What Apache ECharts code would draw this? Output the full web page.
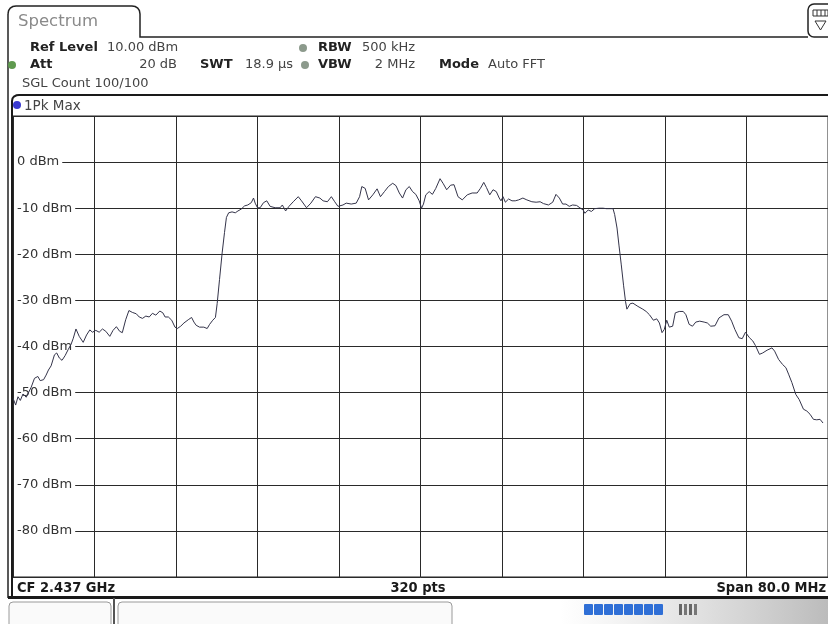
<!DOCTYPE html>
<html><head><meta charset="utf-8">
<script src="https://cdn.jsdelivr.net/npm/echarts@6/dist/echarts.min.js"></script>
<style>html,body{margin:0;padding:0;background:#fff}#c{width:828px;height:624px}</style>
</head><body><div id="c"></div>
<script>
const freqMHz = [
-40.0,-39.74,-39.51,-39.28,-39.02,-38.7,-38.21,-37.89,-37.56,-37.33,-37.0,-36.75,-36.52,-36.26,-35.93,-35.71,-35.45,-35.19,-34.89,-34.57,-34.31,-34.08,-33.82,-33.5,-33.11,-32.78,-32.46,-32.2,-31.87,-31.54,-31.22,-30.89,-30.5,-30.18,-29.85,-29.53,-29.27,-28.94,-28.62,-28.29,-27.9,
-27.61,-27.29,-26.96,-26.63,-26.31,-25.98,-25.59,-25.29,-25.07,-24.75,-24.42,-24.1,-23.87,-23.54,-23.22,-22.8,-22.47,-22.24,-22.02,-21.69,-21.27,-20.94,-20.7,-20.39,-20.13,-19.96,-19.73,-19.47,-19.24,-19.05,-18.83,-18.5,-18.18,-17.92,-17.6,-17.27,-16.95,-16.61,-16.39,-16.23,-16.0,-15.74,-15.41,-15.09,-14.76,-14.27,-13.78,-13.56,
-13.24,-12.91,-12.49,-12.0,-11.68,-11.19,-10.76,-10.31,-9.88,-9.56,-9.14,-8.75,-8.42,-8.1,-7.93,-7.61,-7.29,-6.8,-6.31,-5.98,-5.76,-5.43,-5.1,-4.68,-4.26,-3.93,-3.54,-3.15,-2.73,-2.41,-2.08,-1.76,-1.43,-1.1,-0.78,-0.46,-0.13,0.1,0.29,0.52,0.85,1.17,1.5,1.92,2.24,2.57,2.96,3.29,
3.68,4.1,4.59,5.07,5.56,5.88,6.21,6.47,6.8,7.12,7.44,7.73,7.9,8.1,8.33,8.65,8.98,9.3,9.63,10.05,10.44,10.93,11.35,11.74,12.07,12.56,12.98,13.3,13.63,13.95,14.28,14.6,14.93,15.32,15.64,15.97,16.13,16.46,16.78,17.1,17.53,17.92,18.24,18.57,18.9,19.06,19.29,19.48,19.71,19.93,20.13,20.26,20.59,
20.85,21.34,21.82,22.15,22.47,22.86,23.19,23.45,23.71,23.93,24.17,24.42,24.75,25.01,25.4,25.79,26.05,26.37,26.7,27.02,27.41,27.84,28.16,28.49,28.91,29.3,29.79,30.21,30.54,30.86,31.25,31.58,31.9,32.07,32.29,32.62,32.88,33.27,33.59,34.02,34.5,34.76,35.15,35.54,35.87,36.13,36.45,36.84,37.17,37.59,37.92,38.24,38.57,38.9,39.22,39.51
];
const levelDbm = [
-51.2,-52.7,-50.9,-51.7,-50.3,-51.0,-48.8,-46.9,-46.5,-47.4,-47.2,-46.2,-45.1,-44.2,-41.8,-41.4,-42.5,-43.0,-42.0,-40.6,-39.6,-38.2,-36.2,-37.8,-39.1,-37.5,-36.4,-36.9,-36.5,-36.9,-36.2,-36.7,-37.8,-36.5,-35.7,-36.7,-37.0,-34.2,-32.2,-32.6,-32.9,
-33.6,-33.9,-33.4,-33.6,-32.8,-33.2,-32.3,-32.7,-33.6,-33.6,-34.3,-35.8,-36.1,-35.6,-34.9,-34.2,-33.7,-34.7,-35.4,-35.8,-35.8,-36.1,-35.2,-34.3,-33.7,-30.7,-25.5,-19.7,-15.3,-12.0,-11.0,-10.8,-11.0,-10.6,-10.2,-9.5,-9.3,-8.8,-7.8,-8.9,-9.9,-9.9,-8.8,-8.4,-9.6,-9.9,-9.9,-9.3,
-10.6,-9.6,-8.6,-7.5,-8.4,-9.9,-8.9,-7.5,-7.8,-8.4,-8.6,-7.5,-8.6,-9.6,-10.0,-9.3,-8.9,-9.1,-8.9,-7.5,-5.3,-5.7,-8.2,-7.1,-5.8,-7.5,-6.4,-5.3,-4.6,-5.1,-6.7,-7.8,-6.0,-5.3,-6.4,-7.0,-8.4,-10.0,-9.1,-7.1,-6.4,-7.0,-5.7,-3.6,-4.7,-6.0,-5.0,-4.9,
-7.5,-8.2,-7.1,-6.7,-6.7,-5.7,-4.4,-5.5,-7.1,-6.0,-6.4,-7.8,-8.4,-7.5,-8.7,-8.0,-8.4,-8.4,-8.2,-7.8,-8.2,-8.6,-8.7,-8.6,-9.0,-9.3,-8.7,-7.0,-7.8,-9.1,-9.1,-9.6,-9.3,-9.4,-9.9,-10.4,-11.1,-10.4,-10.7,-10.1,-10.0,-10.0,-10.1,-10.1,-10.1,-11.4,-14.3,-18.0,-22.3,-26.7,-30.3,-31.9,-30.7,
-30.6,-31.3,-31.9,-32.4,-33.1,-34.3,-34.0,-34.9,-37.0,-36.3,-34.3,-35.8,-35.6,-32.7,-32.4,-32.4,-33.1,-35.2,-35.6,-34.7,-34.5,-34.7,-34.9,-35.6,-35.5,-33.8,-33.1,-33.1,-34.5,-36.3,-38.1,-38.3,-36.9,-37.0,-38.1,-38.8,-39.8,-41.7,-41.4,-40.8,-40.3,-41.0,-42.8,-43.9,-44.6,-46.0,-47.8,-50.4,-51.5,-53.6,-54.0,-54.7,-55.8,-55.9,-55.8,-56.6
];
const yMin = -90, yMax = 10, yStep = 10;
const xMin = -40, xMax = 40, xStep = 8;
const headerTexts = {
  refLevel: '10.00 dBm', att: '20 dB', swt: '18.9 µs', rbw: '500 kHz', vbw: '2 MHz', mode: 'Auto FFT',
  sgl: 'SGL Count 100/100', trace: '1Pk Max', cf: 'CF 2.437 GHz', pts: '320 pts', span: 'Span 80.0 MHz'
};

const chart = echarts.init(document.getElementById('c'), null, {renderer: 'canvas'});
const BOLD = 'bold 13px "DejaVu Sans"';
const REG = '13px "DejaVu Sans"';
const COND = 'bold 14.5px "DejaVu Sans Condensed", "DejaVu Sans"';
function T(x, y, s, font, fill, align) {
  return {type: 'text', z: 20, silent: true,
    style: {x: x, y: y, text: s, font: font, fill: fill || '#222', align: align || 'left', verticalAlign: 'middle'}};
}
function dot(x, y, r, fill) {
  return {type: 'circle', z: 20, silent: true, shape: {cx: x, cy: y, r: r}, style: {fill: fill}};
}
function pl(points, stroke, w, z) {
  return {type: 'polyline', z: z || 20, silent: true, shape: {points: points}, style: {stroke: stroke, lineWidth: w, fill: null}};
}
const blueSegs = [];
for (let i = 0; i < 8; i++) {
  blueSegs.push({type: 'rect', z: 20, silent: true, shape: {x: 584 + i * 10, y: 604, width: 9, height: 11, r: 1}, style: {fill: '#2f6fd6'}});
}
const graphics = [
  // bottom-right shading
  {type: 'rect', z: 1, silent: true, shape: {x: 560, y: 599, width: 268, height: 25},
    style: {fill: {type: 'linear', x: 0, y: 0, x2: 1, y2: 0, colorStops: [{offset: 0, color: 'rgba(200,200,200,0)'}, {offset: 1, color: 'rgba(180,180,180,0.9)'}]}}},
  // Tab + header line
  pl([[8, 598], [8, 14]], '#222', 1.5),
  pl([[8, 14], [8.6, 10.5], [10.3, 8], [12.8, 6.5], [16, 6], [132, 6], [135.2, 6.5], [137.7, 8], [139.4, 10.5], [140, 14], [140, 37], [808, 37]], '#222', 1.5),
  T(18, 22, 'Spectrum', '16.5px "DejaVu Sans"', '#8a8a8a'),
  // right icon
  {type: 'rect', z: 20, silent: true, shape: {x: 808, y: 4, width: 26, height: 33, r: 6}, style: {stroke: '#222', lineWidth: 1.5, fill: '#fff'}},
  {type: 'rect', z: 21, silent: true, shape: {x: 813, y: 10, width: 15, height: 6}, style: {stroke: '#333', lineWidth: 1, fill: '#fff'}},
  pl([[817, 10], [817, 16]], '#333', 1, 21),
  pl([[821, 10], [821, 16]], '#333', 1, 21),
  pl([[825, 10], [825, 16]], '#333', 1, 21),
  {type: 'polygon', z: 21, silent: true, shape: {points: [[815, 21], [826, 21], [820.5, 30]]}, style: {stroke: '#333', lineWidth: 1, fill: '#fff'}},
  // header texts
  T(30, 48, 'Ref Level', BOLD), T(107, 48, headerTexts.refLevel, REG, '#444'),
  dot(303, 48, 4, '#8c9a8c'), T(318, 48, 'RBW', BOLD), T(362, 48, headerTexts.rbw, REG, '#444'),
  dot(12, 65, 4, '#5f9a4f'), T(30, 65, 'Att', BOLD), T(177, 65, headerTexts.att, REG, '#444', 'right'),
  T(200, 65, 'SWT', BOLD), T(245, 65, headerTexts.swt, REG, '#444'),
  dot(305, 65, 4, '#8c9a8c'), T(318, 65, 'VBW', BOLD), T(415, 65, headerTexts.vbw, REG, '#444', 'right'),
  T(439, 65, 'Mode', BOLD), T(488, 65, headerTexts.mode, REG, '#444'),
  T(22, 84, headerTexts.sgl, REG, '#444'),
  // trace window frame
  pl([[12, 597], [12, 101], [12.5, 98.5], [14, 96.5], [16.5, 95.3], [19, 95], [828, 95]], '#1a1a1a', 2),
  pl([[8, 597.5], [828, 597.5]], '#1a1a1a', 3),
  dot(17, 105, 4, '#3a3ad0'), T(24, 106, headerTexts.trace, '13.5px "DejaVu Sans"', '#444'),
  // footer
  T(17, 588, headerTexts.cf, COND, '#1a1a1a'),
  T(418, 588, headerTexts.pts, COND, '#1a1a1a', 'center'),
  T(826, 588, headerTexts.span, COND, '#1a1a1a', 'right'),
  // soft keys
  {type: 'rect', z: 20, silent: true, shape: {x: 9, y: 602, width: 102, height: 32, r: 4}, style: {stroke: '#9a9a9a', lineWidth: 1, fill: '#fafafa'}},
  {type: 'rect', z: 20, silent: true, shape: {x: 118, y: 602, width: 334, height: 32, r: 4}, style: {stroke: '#9a9a9a', lineWidth: 1, fill: '#fafafa'}},
  pl([[114, 598], [114, 624]], '#555', 2),
  ...blueSegs,
  {type: 'rect', z: 20, silent: true, shape: {x: 679, y: 604, width: 3, height: 11}, style: {fill: '#666'}},
  {type: 'rect', z: 20, silent: true, shape: {x: 684, y: 604, width: 3, height: 11}, style: {fill: '#777'}},
  {type: 'rect', z: 20, silent: true, shape: {x: 689, y: 604, width: 3, height: 11}, style: {fill: '#666'}},
  {type: 'rect', z: 20, silent: true, shape: {x: 694, y: 604, width: 3, height: 11}, style: {fill: '#777'}}
];

const option = {
  animation: false,
  backgroundColor: '#fff',
  grid: {left: 13, right: -5, top: 116, bottom: 47, show: true, borderColor: '#222', borderWidth: 1, backgroundColor: 'transparent'},
  xAxis: {type: 'value', min: xMin, max: xMax, interval: xStep,
    axisLine: {show: false}, axisTick: {show: false}, axisLabel: {show: false},
    splitLine: {show: true, lineStyle: {color: '#2a2a2a', width: 1}}},
  yAxis: [
    {type: 'value', min: yMin, max: yMax, interval: yStep, z: 0,
      axisLine: {show: false}, axisTick: {show: false}, axisLabel: {show: false},
      splitLine: {show: true, lineStyle: {color: '#2a2a2a', width: 1}}},
    {type: 'value', min: yMin, max: yMax, interval: yStep, z: 1, position: 'left',
      axisLine: {show: false}, axisTick: {show: false}, splitLine: {show: false},
      axisLabel: {inside: true, margin: 1, showMinLabel: false, showMaxLabel: false,
        formatter: v => v + ' dBm', color: '#333', fontSize: 13, fontFamily: 'DejaVu Sans',
        backgroundColor: '#fff', padding: [1, 3, 0, 3]}}
  ],
  graphic: graphics,
  series: [{
    type: 'line', yAxisIndex: 0, z: 5,
    data: freqMHz.map((f, i) => [f, levelDbm[i]]),
    showSymbol: false, symbol: 'none',
    lineStyle: {color: '#34344a', width: 1},
    silent: true
  }]
};
chart.setOption(option);
</script>
</body></html>
